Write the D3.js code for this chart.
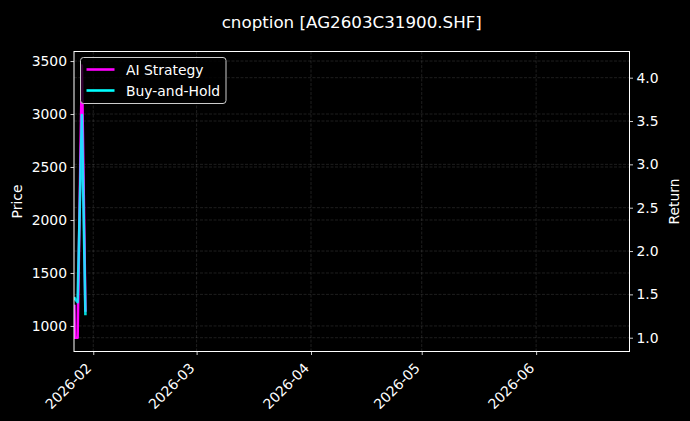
<!DOCTYPE html>
<html>
<head>
<meta charset="utf-8">
<script src="https://cdn.jsdelivr.net/npm/d3@7"></script>
<style>
  html, body { margin: 0; padding: 0; background: #000; }
  svg { display: block; font-family: "DejaVu Sans", sans-serif; }
</style>
</head>
<body>
<div id="chart"></div>
<script>
// Option chart: price on the left axis, strategy returns on the right axis.

const chartTitle = "cnoption [AG2603C31900.SHF]";
const dates = ["2026-01-26T21:00", "2026-01-27T00:00", "2026-01-27T18:00", "2026-01-28T22:00", "2026-01-29T21:00"];
const priceVals = [1200, 890, 890, 3457, 1135];
const aiVals = [1.38, 1.00, 1.00, 4.14, 1.30];
const bhVals = [1.47, 1.45, 1.41, 3.57, 1.26];
const priceTicks = [1000, 1500, 2000, 2500, 3000, 3500];
const returnTicks = [1.0, 1.5, 2.0, 2.5, 3.0, 3.5, 4.0];
const xDomain = ["2026-01-26T18:43", "2026-06-26T07:10"];
const priceDomain = [759, 3590];
const returnDomain = [0.841, 4.302];
const seriesNames = ["AI Strategy", "Buy-and-Hold"];

const width = 690, height = 421;
const margin = { left: 74, right: 60.5, top: 51.5, bottom: 69.5 };
const innerW = width - margin.left - margin.right;
const innerH = height - margin.top - margin.bottom;
const fs = 13.9;

const parse = d3.timeParse("%Y-%m-%dT%H:%M");
const t = dates.map(parse);

const x = d3.scaleTime().domain(xDomain.map(parse)).range([0, innerW]);
const yP = d3.scaleLinear().domain(priceDomain).range([innerH, 0]);
const yR = d3.scaleLinear().domain(returnDomain).range([innerH, 0]);

const svg = d3.select("#chart").append("svg")
  .attr("width", width).attr("height", height);
svg.append("rect").attr("width", width).attr("height", height).attr("fill", "#000");

const g = svg.append("g").attr("transform", `translate(${margin.left},${margin.top})`);

svg.append("defs").append("clipPath").attr("id", "plot-clip")
  .append("rect").attr("width", innerW).attr("height", innerH);

// Grid (dashed, faint)
const grid = g.append("g").attr("class", "grid")
  .attr("stroke", "#ffffff").attr("stroke-opacity", 0.2)
  .attr("stroke-width", 0.6).attr("stroke-dasharray", "3,1.5");
const monthTicks = x.ticks(d3.timeMonth.every(1));
grid.selectAll("line.vx").data(monthTicks).join("line")
  .attr("x1", d => x(d)).attr("x2", d => x(d)).attr("y1", 0).attr("y2", innerH);
grid.selectAll("line.hp").data(priceTicks).join("line").attr("class", "hp")
  .attr("x1", 0).attr("x2", innerW).attr("y1", d => yP(d)).attr("y2", d => yP(d));
grid.selectAll("line.hr").data(returnTicks).join("line").attr("class", "hr")
  .attr("x1", 0).attr("x2", innerW).attr("y1", d => yR(d)).attr("y2", d => yR(d));

// Lines
const lines = g.append("g").attr("clip-path", "url(#plot-clip)").attr("fill", "none");
const pLine = d3.line().x((d, i) => x(t[i])).y(d => yP(d));
const rLine = d3.line().x((d, i) => x(t[i])).y(d => yR(d));

lines.append("path").attr("d", pLine(priceVals))
  .attr("stroke", "#1fa050").attr("stroke-width", 1.6).attr("stroke-opacity", 0.8);
lines.append("path").attr("d", rLine(aiVals))
  .attr("stroke", "#ff00ff").attr("stroke-width", 2.6).attr("stroke-linejoin", "round");
lines.append("path").attr("d", rLine(bhVals))
  .attr("stroke", "#00ffff").attr("stroke-width", 2.6).attr("stroke-opacity", 0.85)
  .attr("stroke-linejoin", "round");

// Axes
function styleAxis(sel) {
  sel.select(".domain").remove();
  sel.selectAll("line").attr("stroke", "#fff").attr("stroke-width", 0.8);
  sel.selectAll("text").attr("fill", "#fff").attr("font-size", fs + "px")
    .attr("font-family", "DejaVu Sans, sans-serif");
}

const xAxis = g.append("g").attr("transform", `translate(0,${innerH})`)
  .call(d3.axisBottom(x).tickValues(monthTicks).tickFormat(d3.timeFormat("%Y-%m"))
    .tickSize(3.5).tickPadding(3.5));
styleAxis(xAxis);
xAxis.selectAll("text")
  .attr("text-anchor", "end")
  .attr("dy", null)
  .attr("y", 0)
  .attr("transform", "translate(-1.5,17.5) rotate(-45)");

const yAxisL = g.append("g")
  .call(d3.axisLeft(yP).tickValues(priceTicks).tickFormat(d3.format("d"))
    .tickSize(3.5).tickPadding(3.5));
styleAxis(yAxisL);

const yAxisR = g.append("g").attr("transform", `translate(${innerW},0)`)
  .call(d3.axisRight(yR).tickValues(returnTicks).tickFormat(d3.format(".1f"))
    .tickSize(3.5).tickPadding(3.5));
styleAxis(yAxisR);

// Frame
g.append("rect").attr("width", innerW).attr("height", innerH)
  .attr("fill", "none").attr("stroke", "#fff").attr("stroke-width", 1);

// Labels
svg.append("text").attr("x", margin.left + innerW / 2).attr("y", 28)
  .attr("text-anchor", "middle").attr("fill", "#fff").attr("font-size", "16.7px")
  .text(chartTitle);
svg.append("text").attr("transform", `translate(21.5,${margin.top + innerH / 2}) rotate(-90)`)
  .attr("text-anchor", "middle").attr("fill", "#fff").attr("font-size", fs + "px")
  .text("Price");
svg.append("text").attr("transform", `translate(679,${margin.top + innerH / 2}) rotate(-90)`)
  .attr("text-anchor", "middle").attr("fill", "#fff").attr("font-size", fs + "px")
  .text("Return");

// Legend
const legend = svg.append("g").attr("transform", "translate(80.5,57.5)");
legend.append("rect").attr("width", 145.5).attr("height", 46).attr("rx", 3)
  .attr("fill", "#000").attr("fill-opacity", 0.8)
  .attr("stroke", "#cccccc").attr("stroke-width", 1);
const legendColors = ["#ff00ff", "#00ffff"];
const item = legend.selectAll("g.item").data(seriesNames).join("g")
  .attr("transform", (d, i) => `translate(0,${12 + i * 21})`);
item.append("line").attr("x1", 6).attr("x2", 34)
  .attr("stroke", (d, i) => legendColors[i]).attr("stroke-width", 2.6);
item.append("text").attr("x", 45.5).attr("y", 5).attr("fill", "#fff")
  .attr("font-size", fs + "px").text(d => d);
</script>
</body>
</html>
